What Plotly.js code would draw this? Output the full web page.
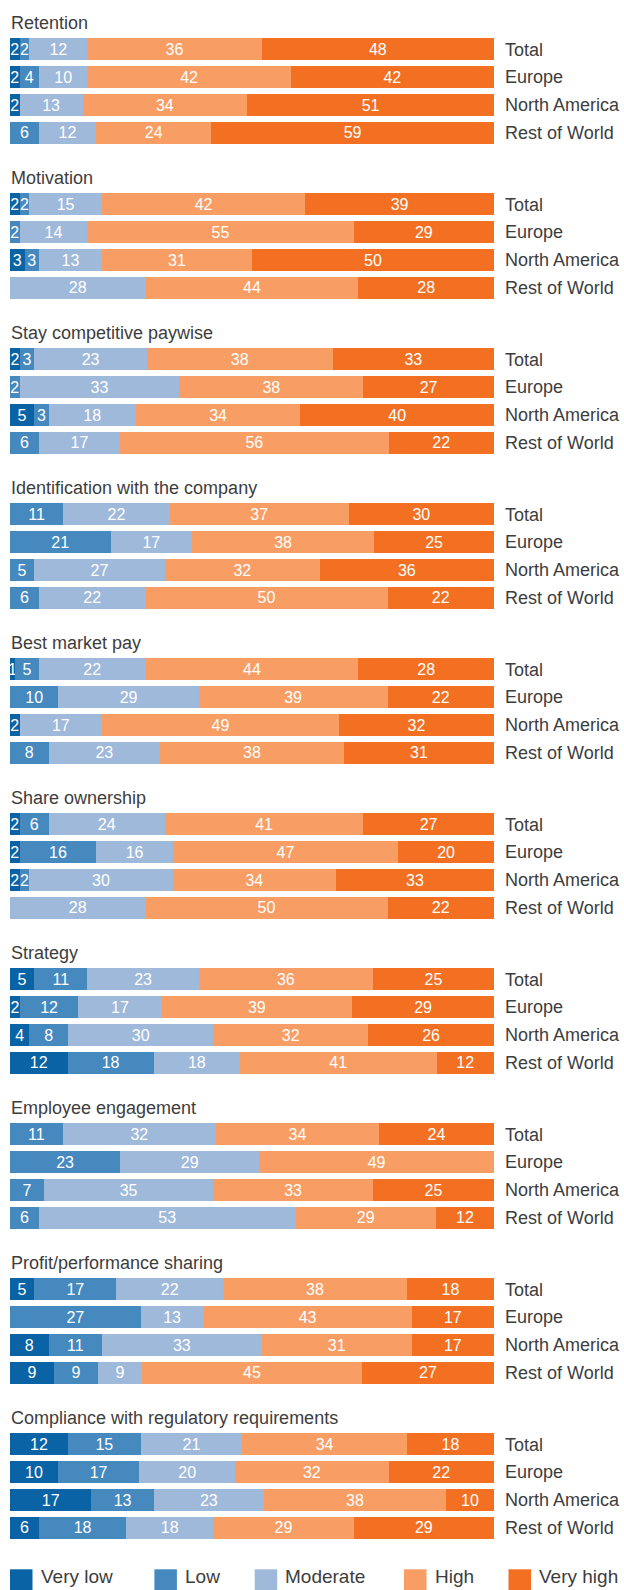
<!DOCTYPE html>
<html>
<head>
<meta charset="utf-8">
<script src="https://cdn.plot.ly/plotly-3.0.1.min.js"></script>
<style>
  html, body { margin: 0; padding: 0; background: #fff; }
  #chart { width: 624px; height: 1590px; }
</style>
</head>
<body>
<div id="chart"></div>
<script>
const regions = ['Total', 'Europe', 'North America', 'Rest of World'];
const groupTitles = [
  'Retention',
  'Motivation',
  'Stay competitive paywise',
  'Identification with the company',
  'Best market pay',
  'Share ownership',
  'Strategy',
  'Employee engagement',
  'Profit/performance sharing',
  'Compliance with regulatory requirements'
];
const levels = ['Very low', 'Low', 'Moderate', 'High', 'Very high'];
const levelColors = ['#0a63a5', '#4589bf', '#9fb9da', '#f89e64', '#f37022'];

// each row: one group; values for Total, Europe, North America, Rest of World
const veryLow = [
  [2, 2, 2, 0],
  [2, 0, 3, 0],
  [2, 0, 5, 0],
  [0, 0, 0, 0],
  [1, 0, 2, 0],
  [2, 2, 2, 0],
  [5, 2, 4, 12],
  [0, 0, 0, 0],
  [5, 0, 8, 9],
  [12, 10, 17, 6]
];
const low = [
  [2, 4, 0, 6],
  [2, 2, 3, 0],
  [3, 2, 3, 6],
  [11, 21, 5, 6],
  [5, 10, 0, 8],
  [6, 16, 2, 0],
  [11, 12, 8, 18],
  [11, 23, 7, 6],
  [17, 27, 11, 9],
  [15, 17, 13, 18]
];
const moderate = [
  [12, 10, 13, 12],
  [15, 14, 13, 28],
  [23, 33, 18, 17],
  [22, 17, 27, 22],
  [22, 29, 17, 23],
  [24, 16, 30, 28],
  [23, 17, 30, 18],
  [32, 29, 35, 53],
  [22, 13, 33, 9],
  [21, 20, 23, 18]
];
const high = [
  [36, 42, 34, 24],
  [42, 55, 31, 44],
  [38, 38, 34, 56],
  [37, 38, 32, 50],
  [44, 39, 49, 38],
  [41, 47, 34, 50],
  [36, 39, 32, 41],
  [34, 49, 33, 29],
  [38, 43, 31, 45],
  [34, 32, 38, 29]
];
const veryHigh = [
  [48, 42, 51, 59],
  [39, 29, 50, 28],
  [33, 27, 40, 22],
  [30, 25, 36, 22],
  [28, 22, 32, 31],
  [27, 20, 33, 22],
  [25, 29, 26, 12],
  [24, 0, 25, 12],
  [18, 17, 17, 27],
  [18, 22, 10, 29]
];
const levelData = [veryLow, low, moderate, high, veryHigh];

// ---- layout geometry (pixels) ----
const W = 624, H = 1590;
const plotLeft = 10, plotRight = 494;
const firstBlockTop = 35.3, blockHeight = 111.6, groupStep = 155.0;
const firstTitleY = 23.3;

const valueFont = { family: 'Liberation Sans Narrow, Liberation Sans, Arial, sans-serif', size: 16, color: '#ffffff' };
const labelFont = { family: 'Liberation Sans, Arial, sans-serif', size: 18, color: '#3d3d3d' };

const traces = [];
const layout = {
  width: W,
  height: H,
  margin: { l: 0, r: 0, t: 0, b: 0, pad: 0 },
  paper_bgcolor: '#ffffff',
  plot_bgcolor: '#ffffff',
  barmode: 'stack',
  barnorm: 'percent',
  showlegend: false,
  uniformtext: { mode: 'show', minsize: 16 },
  xaxis: {
    domain: [plotLeft / W, plotRight / W],
    range: [0, 100],
    visible: false,
    fixedrange: true,
    anchor: 'y'
  },
  annotations: [],
  shapes: []
};

groupTitles.forEach((title, g) => {
  const axName = g === 0 ? 'yaxis' : 'yaxis' + (g + 1);
  const axRef = g === 0 ? 'y' : 'y' + (g + 1);
  const topPx = firstBlockTop + g * groupStep;
  const botPx = topPx + blockHeight;
  layout[axName] = {
    domain: [1 - botPx / H, 1 - topPx / H],
    anchor: 'x',
    side: 'right',
    type: 'category',
    categoryorder: 'array',
    categoryarray: regions,
    range: [3.5, -0.5],
    showgrid: false,
    zeroline: false,
    showline: false,
    ticks: '',
    ticklabelstandoff: 10,
    tickfont: labelFont,
    automargin: false,
    fixedrange: true
  };
  levels.forEach((lvl, l) => {
    const vals = levelData[l][g];
    traces.push({
      type: 'bar',
      orientation: 'h',
      name: lvl,
      x: vals,
      y: regions,
      xaxis: 'x',
      yaxis: axRef,
      width: 0.78,
      marker: { color: levelColors[l], line: { width: 0 } },
      text: vals.map(v => (v ? String(v) : '')),
      textposition: 'inside',
      insidetextanchor: 'middle',
      textangle: 0,
      constraintext: 'none',
      textfont: valueFont,
      hoverinfo: 'skip',
      showlegend: false
    });
  });
  layout.annotations.push({
    text: title,
    xref: 'paper', yref: 'paper',
    x: plotLeft / W - 0.002, y: 1 - (firstTitleY + g * groupStep) / H,
    xanchor: 'left', yanchor: 'middle',
    showarrow: false,
    font: labelFont
  });
});

// legend (drawn manually to match the large swatches)
const legendSwatchX = [10, 154.4, 254.7, 404, 508.5];
const swatchW = 22.5;
const legendTop = 1569.3;
levels.forEach((lvl, l) => {
  const x0 = legendSwatchX[l];
  layout.shapes.push({
    type: 'rect', xref: 'paper', yref: 'paper',
    x0: x0 / W, x1: (x0 + swatchW) / W,
    y0: 1 - 1600 / H, y1: 1 - legendTop / H,
    fillcolor: levelColors[l], line: { width: 0 }
  });
  layout.annotations.push({
    text: lvl,
    xref: 'paper', yref: 'paper',
    x: (x0 + swatchW + 6) / W, y: 1 - 1589 / H,
    xanchor: 'left', yanchor: 'bottom',
    showarrow: false,
    font: { family: 'Liberation Sans, Arial, sans-serif', size: 19, color: '#3d3d3d' }
  });
});

Plotly.newPlot('chart', traces, layout, { displayModeBar: false, staticPlot: true });
</script>
</body>
</html>
